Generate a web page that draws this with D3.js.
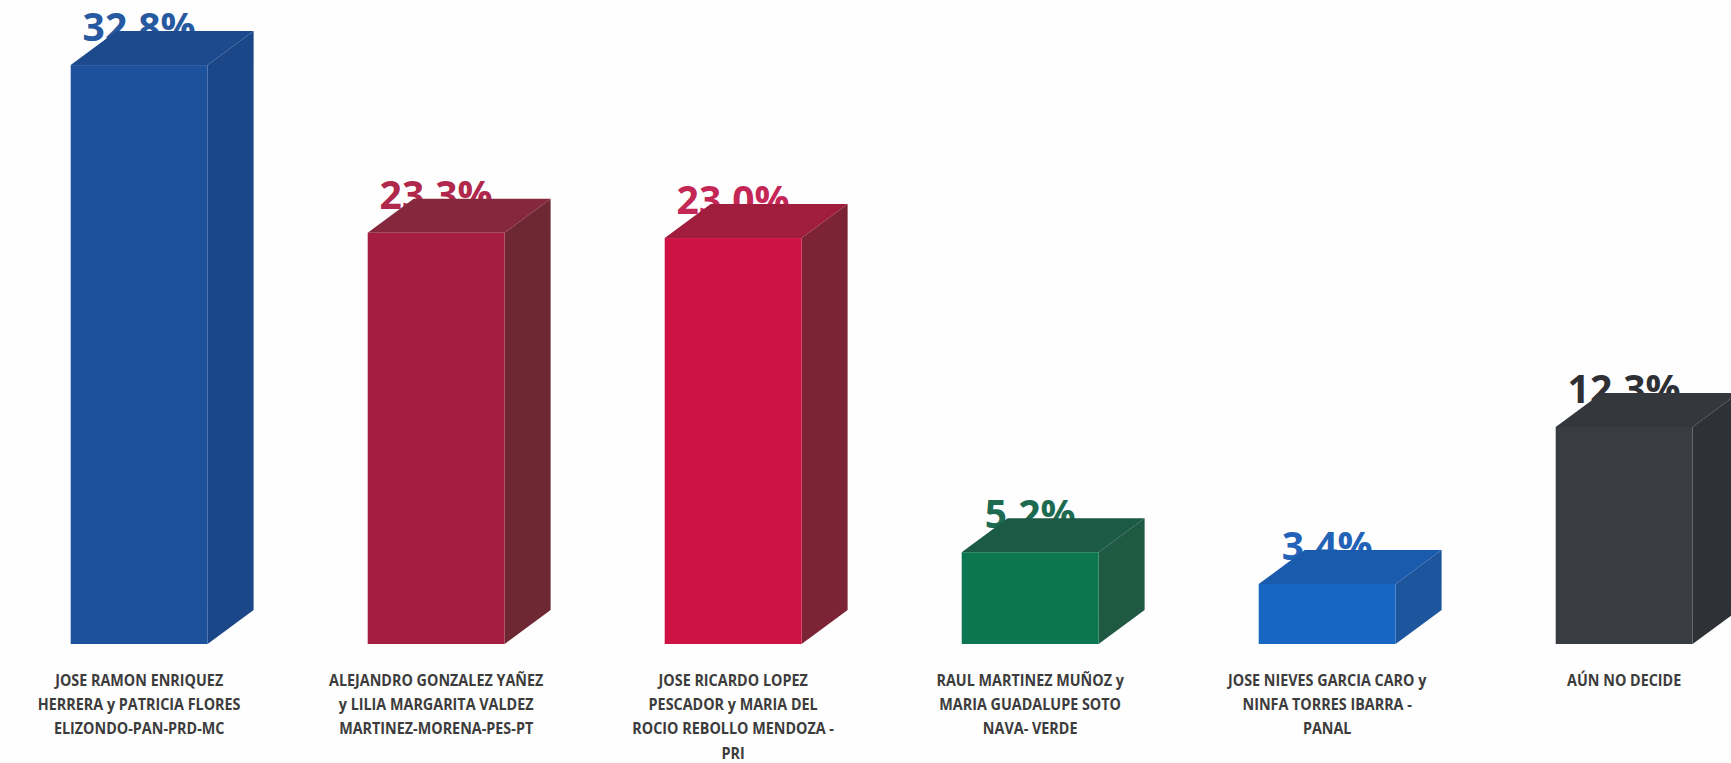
<!DOCTYPE html>
<html>
<head>
<meta charset="utf-8">
<script src="https://cdn.jsdelivr.net/npm/d3@7"></script>
<style>
  html, body { margin: 0; padding: 0; background: #ffffff; overflow: hidden; }
  svg { display: block; }
</style>
</head>
<body>
<svg id="chart" width="1731" height="763"></svg>
<script>
const categories = [
  ["JOSE RAMON ENRIQUEZ", "HERRERA y PATRICIA FLORES", "ELIZONDO-PAN-PRD-MC"],
  ["ALEJANDRO GONZALEZ YAÑEZ", "y LILIA MARGARITA VALDEZ", "MARTINEZ-MORENA-PES-PT"],
  ["JOSE RICARDO LOPEZ", "PESCADOR y MARIA DEL", "ROCIO REBOLLO MENDOZA -", "PRI"],
  ["RAUL MARTINEZ MUÑOZ y", "MARIA GUADALUPE SOTO", "NAVA- VERDE"],
  ["JOSE NIEVES GARCIA CARO y", "NINFA TORRES IBARRA -", "PANAL"],
  ["AÚN NO DECIDE"]
];
const values = [32.8, 23.3, 23.0, 5.2, 3.4, 12.3];
const valueLabels = ["32.8%", "23.3%", "23.0%", "5.2%", "3.4%", "12.3%"];
const frontColors = ["#1e519c", "#a51d40", "#cf1244", "#0c7650", "#1766c4", "#393c41"];
const sideColors  = ["#1b4788", "#6d2834", "#7c2336", "#1f5843", "#1d569c", "#2e3136"];
const topColors   = ["#1c4a8c", "#86283d", "#a01d3e", "#1b5a44", "#1b5bae", "#34373c"];
const labelColors = ["#2659a0", "#b0284c", "#c42656", "#1c6a50", "#2263b8", "#2e3035"];

const W = 1731, H = 763;
const svg = d3.select("#chart");
svg.append("rect").attr("width", W).attr("height", H).attr("fill", "#fefefe");

const idx = d3.range(values.length);
const base = 644, perPct = 17.65;
const x = d3.scaleBand().domain(idx).range([70.7, 70.7 + 297 * (6 - 0.539)])
  .paddingInner(0.539).paddingOuter(0);
const y = d3.scaleLinear().domain([0, 35]).range([base, base - 35 * perPct]);
const dx = 46, dy = 34;

// value labels (drawn first so the bar tops cover their lower part)
svg.append("g").selectAll("text").data(idx).join("text")
  .attr("x", i => x(i) + x.bandwidth() / 2)
  .attr("y", i => y(values[i]) - 24)
  .attr("text-anchor", "middle")
  .attr("font-family", "'Open Sans', sans-serif")
  .attr("font-weight", 700)
  .attr("font-size", 39)
  .attr("fill", i => labelColors[i])
  .text(i => valueLabels[i]);

const bars = svg.append("g").selectAll("g").data(idx).join("g");
// side face
bars.append("path")
  .attr("fill", i => sideColors[i])
  .attr("d", i => {
    const xr = x(i) + x.bandwidth(), yt = y(values[i]), yb = y(0);
    return `M${xr},${yt}L${xr + dx},${yt - dy}L${xr + dx},${yb - dy}L${xr},${yb}Z`;
  });
// top face
bars.append("path")
  .attr("fill", i => topColors[i])
  .attr("d", i => {
    const xl = x(i), xr = x(i) + x.bandwidth(), yt = y(values[i]);
    return `M${xl},${yt}L${xl + dx},${yt - dy}L${xr + dx},${yt - dy}L${xr},${yt}Z`;
  });
// front face
bars.append("rect")
  .attr("x", i => x(i))
  .attr("y", i => y(values[i]))
  .attr("width", x.bandwidth())
  .attr("height", i => y(0) - y(values[i]))
  .attr("fill", i => frontColors[i]);

// category labels (condensed horizontally to mimic a narrow bold face)
const cat = svg.append("g").selectAll("text").data(idx).join("text")
  .attr("transform", i => `translate(${x(i) + x.bandwidth() / 2},686) scale(0.855,1)`)
  .attr("text-anchor", "middle")
  .attr("font-family", "'Open Sans', sans-serif")
  .attr("font-weight", 700)
  .attr("font-size", 16.8)
  .attr("fill", "#3c3c3c");
cat.selectAll("tspan").data(i => categories[i].map(t => ({ t, i }))).join("tspan")
  .attr("x", 0)
  .attr("dy", (d, j) => j === 0 ? 0 : 24.2)
  .text(d => d.t);
</script>
</body>
</html>
